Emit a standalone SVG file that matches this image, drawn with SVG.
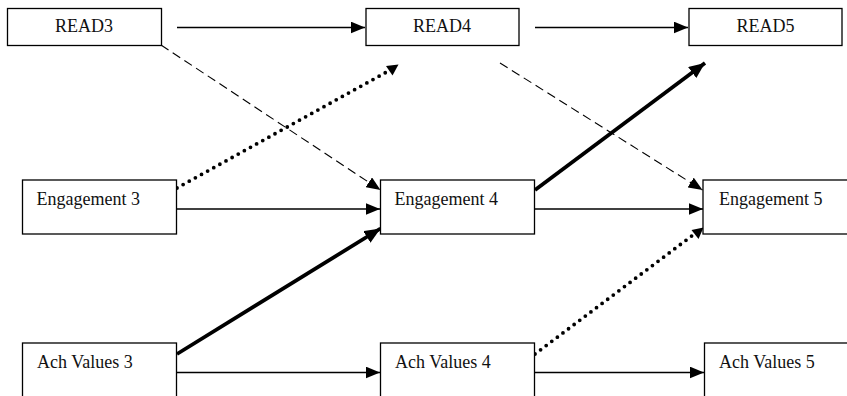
<svg xmlns="http://www.w3.org/2000/svg" width="847" height="396" viewBox="0 0 847 396">
<style>
.box{fill:#fff;stroke:#000;stroke-width:1.3}
.lbl{font-family:'Liberation Serif','DejaVu Serif','Times New Roman',serif;font-size:18px;fill:#111}
.c{text-anchor:middle}
.solid{stroke:#000;stroke-width:1.3;fill:none}
.dash{stroke:#000;stroke-width:1.1;stroke-dasharray:9 5;fill:none}
.dot{stroke:#000;stroke-width:3.8;stroke-dasharray:0 7;stroke-linecap:round;fill:none}
.thick{stroke:#000;stroke-width:3.8;fill:none}
</style>
<defs>
<marker id="ah" markerUnits="userSpaceOnUse" markerWidth="14" markerHeight="12" refX="12" refY="5" orient="auto" viewBox="0 0 12 10">
<path d="M0,0 L12,5 L0,10 Z" fill="#000"/>
</marker>
<marker id="ahb" markerUnits="userSpaceOnUse" markerWidth="16" markerHeight="14" refX="14" refY="6" orient="auto" viewBox="0 0 14 12">
<path d="M0,0 L14,6 L0,12 Z" fill="#000"/>
</marker>
</defs>
<rect width="847" height="396" fill="#fff"/>
<g id="connectors">
<line class="solid" x1="177" y1="27.5" x2="365" y2="27.5" marker-end="url(#ah)"/>
<line class="solid" x1="535" y1="27.5" x2="688" y2="27.5" marker-end="url(#ah)"/>
<line class="solid" x1="177" y1="209" x2="380" y2="209" marker-end="url(#ah)"/>
<line class="solid" x1="535" y1="209" x2="703" y2="209" marker-end="url(#ah)"/>
<line class="solid" x1="177" y1="372.5" x2="380" y2="372.5" marker-end="url(#ah)"/>
<line class="solid" x1="535" y1="372.5" x2="704" y2="372.5" marker-end="url(#ah)"/>
<line class="dash" x1="161" y1="45" x2="380.5" y2="190" marker-end="url(#ah)"/>
<line class="dash" x1="500" y1="63" x2="702.5" y2="190" marker-end="url(#ah)"/>
<line class="dot" x1="177" y1="188" x2="392" y2="69"/>
<path d="M398.5,64.5 L386,66 L392.5,75.5 Z" fill="#000"/>
<line class="dot" x1="535" y1="354" x2="697" y2="232"/>
<path d="M703.5,227.5 L691.5,230 L698.5,239 Z" fill="#000"/>
<line class="thick" x1="535" y1="190" x2="705" y2="63" marker-end="url(#ahb)"/>
<line class="thick" x1="177" y1="354" x2="380.5" y2="228.5" marker-end="url(#ahb)"/>
</g>
<g id="read3"><rect class="box" x="7.5" y="8.5" width="154" height="37"/><text class="lbl c" x="84" y="31.5">READ3</text></g>
<g id="read4"><rect class="box" x="366" y="8.5" width="153" height="37"/><text class="lbl c" x="442" y="31.5">READ4</text></g>
<g id="read5"><rect class="box" x="689" y="8.5" width="153" height="37"/><text class="lbl c" x="765.5" y="31.5">READ5</text></g>
<g id="eng3"><rect class="box" x="22.5" y="180" width="154" height="54"/><text class="lbl" x="36.5" y="205">Engagement 3</text></g>
<g id="eng4"><rect class="box" x="380.5" y="180" width="154" height="54"/><text class="lbl" x="394.5" y="205">Engagement 4</text></g>
<g id="eng5"><rect class="box" x="703" y="180" width="154" height="54"/><text class="lbl" x="719" y="205">Engagement 5</text></g>
<g id="ach3"><rect class="box" x="22.5" y="343" width="154" height="70"/><text class="lbl" x="37" y="368">Ach Values 3</text></g>
<g id="ach4"><rect class="box" x="380.5" y="343" width="154" height="70"/><text class="lbl" x="395" y="368">Ach Values 4</text></g>
<g id="ach5"><rect class="box" x="704.5" y="343" width="154" height="70"/><text class="lbl" x="719" y="368">Ach Values 5</text></g>
</svg>
